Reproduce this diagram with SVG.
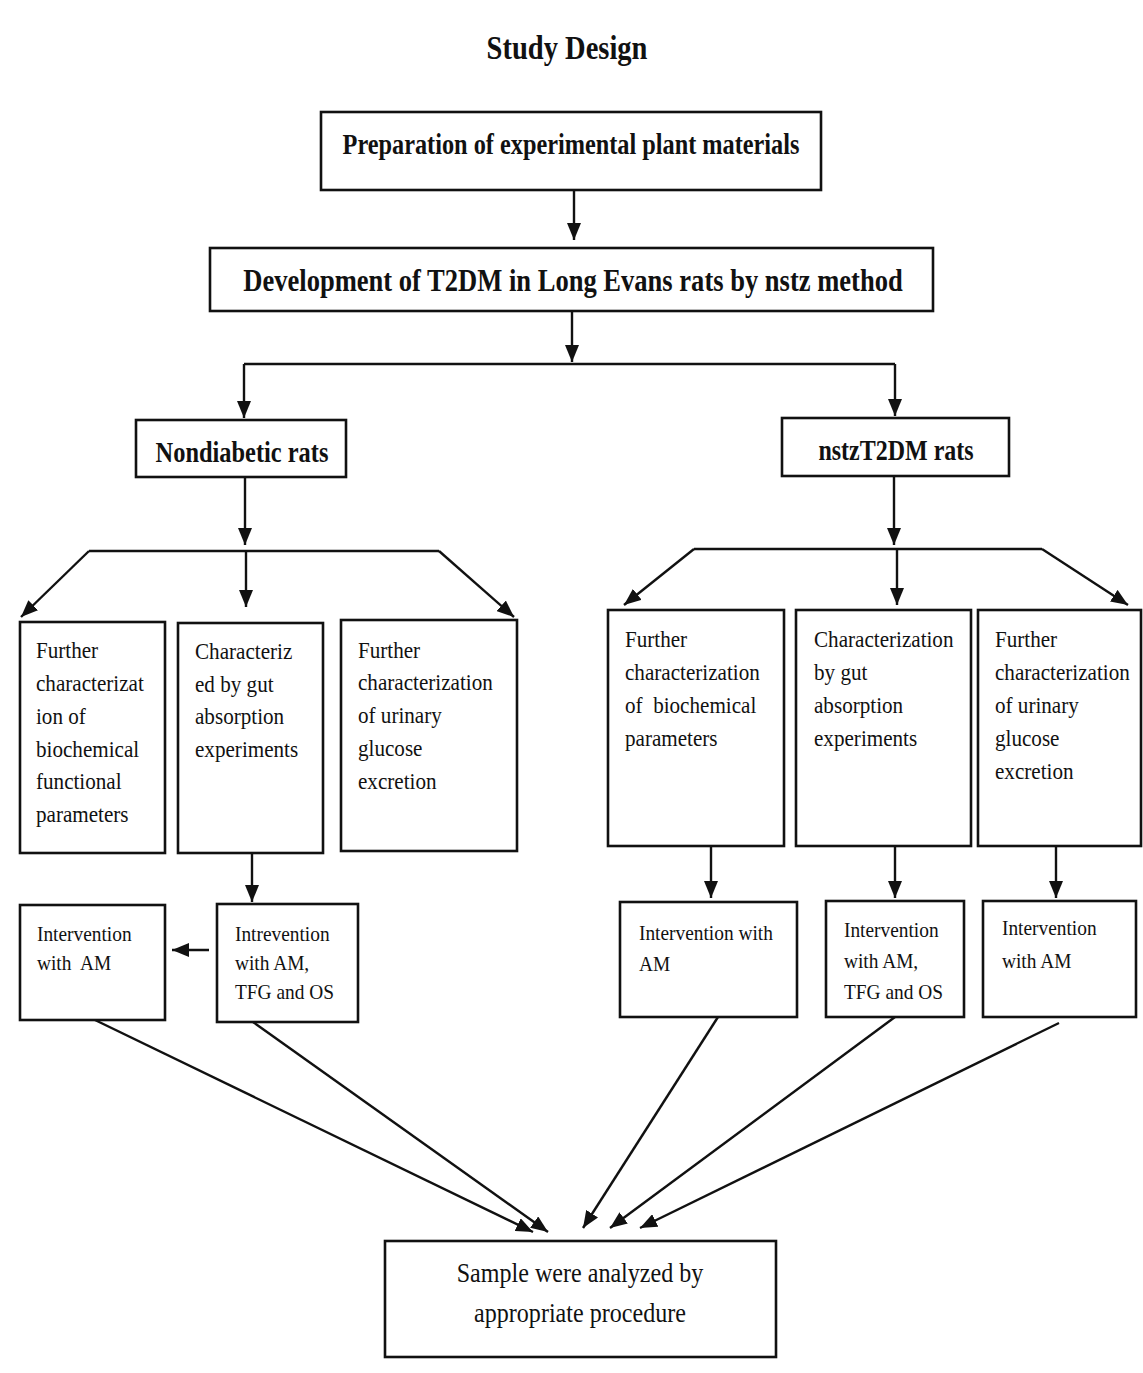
<svg xmlns="http://www.w3.org/2000/svg" width="1143" height="1373" viewBox="0 0 1143 1373">
<style>
.bx{fill:#fff;stroke:#111;stroke-width:2.6}
.cn{fill:none;stroke:#111;stroke-width:2.4}
.b{font-family:"Liberation Serif",serif;font-weight:bold;fill:#111}
.r{font-family:"Liberation Serif",serif;fill:#111}
</style>
<defs>
<marker id="ah" markerWidth="17" markerHeight="14" refX="17" refY="7" orient="auto" markerUnits="userSpaceOnUse"><path d="M0,0 L17,7 L0,14 z" fill="#111"/></marker>
</defs>
<rect width="1143" height="1373" fill="#fff"/>
<text class="b" font-size="34" text-anchor="middle" transform="translate(567,0) scale(0.84,1)" x="0" y="59">Study Design</text>

<g id="connectors">
<path class="cn" d="M574,190 V240" marker-end="url(#ah)"/>
<path class="cn" d="M572,311 V362" marker-end="url(#ah)"/>
<path class="cn" d="M244,364 H895"/>
<path class="cn" d="M244,364 V418" marker-end="url(#ah)"/>
<path class="cn" d="M895,364 V416" marker-end="url(#ah)"/>
<path class="cn" d="M245,477 V545" marker-end="url(#ah)"/>
<path class="cn" d="M89,551 H439"/>
<path class="cn" d="M89,551 L21,617" marker-end="url(#ah)"/>
<path class="cn" d="M439,551 L514,617" marker-end="url(#ah)"/>
<path class="cn" d="M246,551 V607" marker-end="url(#ah)"/>
<path class="cn" d="M894,476 V545" marker-end="url(#ah)"/>
<path class="cn" d="M694,549 H1042"/>
<path class="cn" d="M694,549 L624,605" marker-end="url(#ah)"/>
<path class="cn" d="M1042,549 L1128,605" marker-end="url(#ah)"/>
<path class="cn" d="M897,549 V605" marker-end="url(#ah)"/>
<path class="cn" d="M252,853 V902" marker-end="url(#ah)"/>
<path class="cn" d="M209,950 H172" marker-end="url(#ah)"/>
<path class="cn" d="M711,846 V898" marker-end="url(#ah)"/>
<path class="cn" d="M895,846 V898" marker-end="url(#ah)"/>
<path class="cn" d="M1056,846 V898" marker-end="url(#ah)"/>
<path class="cn" d="M95,1020 L533,1232" marker-end="url(#ah)"/>
<path class="cn" d="M253,1022 L548,1232" marker-end="url(#ah)"/>
<path class="cn" d="M718,1017 L583,1228" marker-end="url(#ah)"/>
<path class="cn" d="M895,1017 L610,1228" marker-end="url(#ah)"/>
<path class="cn" d="M1059,1023 L640,1228" marker-end="url(#ah)"/>
</g>

<g id="prep">
<rect class="bx" x="321" y="112" width="500" height="78"/>
<text class="b" font-size="30" text-anchor="middle" transform="translate(571,0) scale(0.81,1)" x="0" y="154">Preparation of experimental plant materials</text>
</g>
<g id="dev">
<rect class="bx" x="210" y="248" width="723" height="63"/>
<text class="b" font-size="32" text-anchor="middle" transform="translate(573,0) scale(0.83,1)" x="0" y="291">Development of T2DM in Long Evans rats by nstz method</text>
</g>
<g id="nondiabetic">
<rect class="bx" x="136" y="420" width="210" height="57"/>
<text class="b" font-size="30" text-anchor="middle" transform="translate(242,0) scale(0.814,1)" x="0" y="462">Nondiabetic rats</text>
</g>
<g id="nstz">
<rect class="bx" x="782" y="418" width="227" height="58"/>
<text class="b" font-size="30" text-anchor="middle" transform="translate(896,0) scale(0.8,1)" x="0" y="460">nstzT2DM rats</text>
</g>

<g id="nd-biochem">
<rect class="bx" x="20" y="622" width="145" height="231"/>
<text class="r" font-size="24" transform="translate(36,0) scale(0.88,1)"><tspan x="0" y="658">Further</tspan><tspan x="0" y="691">characterizat</tspan><tspan x="0" y="724">ion of</tspan><tspan x="0" y="757">biochemical</tspan><tspan x="0" y="789">functional</tspan><tspan x="0" y="822">parameters</tspan></text>
</g>
<g id="nd-gut">
<rect class="bx" x="178" y="623" width="145" height="230"/>
<text class="r" font-size="24" transform="translate(195,0) scale(0.88,1)"><tspan x="0" y="659">Characteriz</tspan><tspan x="0" y="692">ed by gut</tspan><tspan x="0" y="724">absorption</tspan><tspan x="0" y="757">experiments</tspan></text>
</g>
<g id="nd-urine">
<rect class="bx" x="341" y="620" width="176" height="231"/>
<text class="r" font-size="24" transform="translate(358,0) scale(0.88,1)"><tspan x="0" y="658">Further</tspan><tspan x="0" y="690">characterization</tspan><tspan x="0" y="723">of urinary</tspan><tspan x="0" y="756">glucose</tspan><tspan x="0" y="789">excretion</tspan></text>
</g>

<g id="dm-biochem">
<rect class="bx" x="608" y="610" width="176" height="236"/>
<text class="r" font-size="24" transform="translate(625,0) scale(0.88,1)" xml:space="preserve"><tspan x="0" y="647">Further</tspan><tspan x="0" y="680">characterization</tspan><tspan x="0" y="713">of  biochemical</tspan><tspan x="0" y="746">parameters</tspan></text>
</g>
<g id="dm-gut">
<rect class="bx" x="796" y="610" width="175" height="236"/>
<text class="r" font-size="24" transform="translate(814,0) scale(0.88,1)"><tspan x="0" y="647">Characterization</tspan><tspan x="0" y="680">by gut</tspan><tspan x="0" y="713">absorption</tspan><tspan x="0" y="746">experiments</tspan></text>
</g>
<g id="dm-urine">
<rect class="bx" x="978" y="610" width="163" height="236"/>
<text class="r" font-size="24" transform="translate(995,0) scale(0.88,1)"><tspan x="0" y="647">Further</tspan><tspan x="0" y="680">characterization</tspan><tspan x="0" y="713">of urinary</tspan><tspan x="0" y="746">glucose</tspan><tspan x="0" y="779">excretion</tspan></text>
</g>

<g id="nd-am">
<rect class="bx" x="20" y="905" width="145" height="115"/>
<text class="r" font-size="22" transform="translate(37,0) scale(0.88,1)" xml:space="preserve"><tspan x="0" y="941">Intervention</tspan><tspan x="0" y="970">with  AM</tspan></text>
</g>
<g id="nd-amtfg">
<rect class="bx" x="217" y="904" width="141" height="118"/>
<text class="r" font-size="22" transform="translate(235,0) scale(0.88,1)"><tspan x="0" y="941">Intrevention</tspan><tspan x="0" y="970">with AM,</tspan><tspan x="0" y="999">TFG and OS</tspan></text>
</g>
<g id="dm-am1">
<rect class="bx" x="620" y="902" width="177" height="115"/>
<text class="r" font-size="22" transform="translate(639,0) scale(0.88,1)"><tspan x="0" y="940">Intervention with</tspan><tspan x="0" y="971">AM</tspan></text>
</g>
<g id="dm-amtfg">
<rect class="bx" x="826" y="901" width="138" height="116"/>
<text class="r" font-size="22" transform="translate(844,0) scale(0.88,1)"><tspan x="0" y="937">Intervention</tspan><tspan x="0" y="968">with AM,</tspan><tspan x="0" y="999">TFG and OS</tspan></text>
</g>
<g id="dm-am2">
<rect class="bx" x="983" y="901" width="153" height="116"/>
<text class="r" font-size="22" transform="translate(1002,0) scale(0.88,1)"><tspan x="0" y="935">Intervention</tspan><tspan x="0" y="968">with AM</tspan></text>
</g>

<g id="sample">
<rect class="bx" x="385" y="1241" width="391" height="116"/>
<text class="r" font-size="28" text-anchor="middle" transform="translate(580,0) scale(0.86,1)"><tspan x="0" y="1282">Sample were analyzed by</tspan><tspan x="0" y="1322">appropriate procedure</tspan></text>
</g>
</svg>
